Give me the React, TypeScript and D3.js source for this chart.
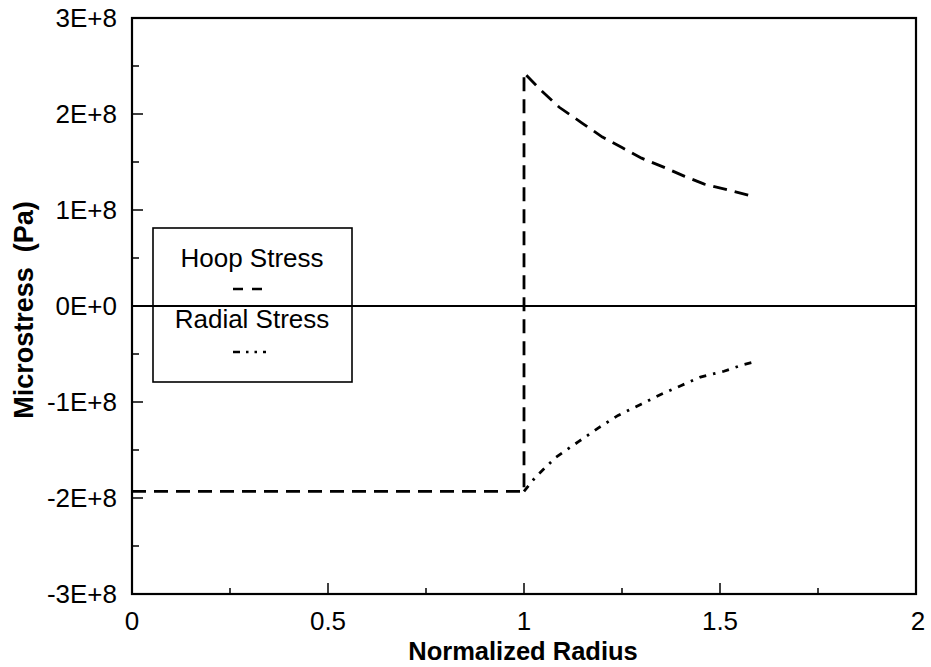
import React from "react";
import * as d3 from "d3";

const xTicks = [0, 0.5, 1, 1.5, 2];
const xTickLabels = ["0", "0.5", "1", "1.5", "2"];
const xMinorTicks = [0.25, 0.75, 1.25, 1.75];
const yTicks = [3e8, 2e8, 1e8, 0, -1e8, -2e8, -3e8];
const yTickLabels = ["3E+8", "2E+8", "1E+8", "0E+0", "-1E+8", "-2E+8", "-3E+8"];
const yMinorTicks = [2.5e8, 1.5e8, 0.5e8, -0.5e8, -1.5e8, -2.5e8];

const hoopX = [0, 1.0, 1.0, 1.04, 1.09, 1.15, 1.2, 1.25, 1.3, 1.36, 1.41, 1.46, 1.52, 1.585];
const hoopY = [-1.93e8, -1.93e8, 2.43e8, 2.26e8, 2.07e8, 1.9e8, 1.76e8, 1.65e8, 1.54e8, 1.44e8, 1.35e8, 1.27e8, 1.21e8, 1.14e8];

const radialX = [1.0, 1.03, 1.08, 1.14, 1.19, 1.24, 1.3, 1.35, 1.4, 1.45, 1.51, 1.56, 1.59];
const radialY = [-1.93e8, -1.78e8, -1.58e8, -1.41e8, -1.27e8, -1.14e8, -1.02e8, -0.92e8, -0.83e8, -0.74e8, -0.68e8, -0.61e8, -0.58e8];

const legendLabels = ["Hoop Stress", "Radial Stress"];

export default function App() {
  const W = 931, H = 667;
  const left = 132, right = 916, top = 18, bottom = 594;
  const x = d3.scaleLinear().domain([0, 2]).range([left, right]);
  const y = d3.scaleLinear().domain([-3e8, 3e8]).range([bottom, top]);
  const line = d3.line<[number, number]>().x(d => x(d[0])).y(d => y(d[1]));
  const hoop = line(hoopX.map((v, i) => [v, hoopY[i]] as [number, number])) || "";
  const radial = line(radialX.map((v, i) => [v, radialY[i]] as [number, number])) || "";
  const font = "'Liberation Sans', Arial, Helvetica, sans-serif";
  const hoopDash = "14 8";
  const radialDash = "7 7 2.5 7";

  return (
    <svg width={W} height={H} style={{ position: "absolute", left: 0, top: 0, background: "#fff" }} fontFamily={font}>
      <rect x={0} y={0} width={W} height={H} fill="#fff" />
      {/* zero line */}
      <line x1={left} x2={right} y1={y(0)} y2={y(0)} stroke="#000" strokeWidth={2} />
      {/* data */}
      <path d={hoop} fill="none" stroke="#000" strokeWidth={2.8} strokeDasharray={hoopDash} />
      <path d={radial} fill="none" stroke="#000" strokeWidth={2.8} strokeDasharray={radialDash} />
      {/* frame */}
      <rect x={left} y={top} width={right - left} height={bottom - top} fill="none" stroke="#000" strokeWidth={2.2} />
      {/* y ticks */}
      {yTicks.map((t, i) => (
        <g key={"yt" + i}>
          <line x1={left} x2={left + 11} y1={y(t)} y2={y(t)} stroke="#000" strokeWidth={1.5} />
          <text x={117} y={y(t)} dy="0.36em" textAnchor="end" fontSize={26} fill="#000">{yTickLabels[i]}</text>
        </g>
      ))}
      {yMinorTicks.map((t, i) => (
        <line key={"ym" + i} x1={left} x2={left + 7} y1={y(t)} y2={y(t)} stroke="#000" strokeWidth={1.5} />
      ))}
      {/* x ticks */}
      {xTicks.map((t, i) => (
        <g key={"xt" + i}>
          {i > 0 && i < xTicks.length - 1 && (
            <line x1={x(t)} x2={x(t)} y1={bottom} y2={bottom - 11} stroke="#000" strokeWidth={1.5} />
          )}
          <text x={x(t) + (i === xTicks.length - 1 ? 2 : 0)} y={630} textAnchor="middle" fontSize={26} fill="#000">{xTickLabels[i]}</text>
        </g>
      ))}
      {xMinorTicks.map((t, i) => (
        <line key={"xm" + i} x1={x(t)} x2={x(t)} y1={bottom} y2={bottom - 6} stroke="#000" strokeWidth={1.5} />
      ))}
      {/* axis titles */}
      <text x={523} y={660} textAnchor="middle" fontSize={25.5} fontWeight="bold" fill="#000">Normalized Radius</text>
      <text transform="translate(33,310) rotate(-90)" textAnchor="middle" fontSize={27} fontWeight="bold" fill="#000" xmlSpace="preserve">{"Microstress  (Pa)"}</text>
      {/* legend */}
      <rect x={153} y={228} width={199} height={154} fill="none" stroke="#000" strokeWidth={1.6} />
      <text x={252} y={267} textAnchor="middle" fontSize={26} fill="#000">{legendLabels[0]}</text>
      <line x1={233} x2={263} y1={289} y2={289} stroke="#000" strokeWidth={2.5} strokeDasharray="10 9" />
      <text x={252} y={328} textAnchor="middle" fontSize={26} fill="#000">{legendLabels[1]}</text>
      <line x1={233} x2={266} y1={352} y2={352} stroke="#000" strokeWidth={2.5} strokeDasharray="7 6 2.5 6 2.5 6" />
    </svg>
  );
}
